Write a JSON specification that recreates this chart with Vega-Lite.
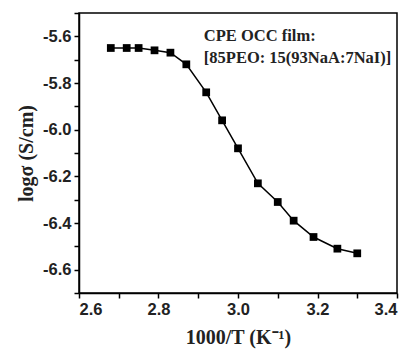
{
  "$schema": "https://vega.github.io/schema/vega-lite/v6.json",
  "width": 318,
  "height": 280,
  "autosize": {"type": "none"},
  "padding": {"left": 79, "top": 13, "right": 12, "bottom": 56},
  "background": "white",
  "config": {
    "view": {"stroke": "black", "strokeWidth": 1.5},
    "axis": {
      "domainColor": "black", "domainWidth": 1.5, "tickColor": "black", "tickWidth": 1.5,
      "tickSize": 5, "grid": false, "labelFont": "Liberation Sans", "labelFontWeight": "bold",
      "labelFontSize": 16.5, "labelColor": "#222", "titleFont": "Liberation Serif",
      "titleFontWeight": "bold", "titleFontSize": 20, "titleColor": "#222", "labelOverlap": false
    }
  },
  "datasets": {
    "pts": [
      {"x": 2.68, "y": -5.65}, {"x": 2.72, "y": -5.65}, {"x": 2.75, "y": -5.65},
      {"x": 2.79, "y": -5.66}, {"x": 2.83, "y": -5.67}, {"x": 2.87, "y": -5.72},
      {"x": 2.92, "y": -5.84}, {"x": 2.96, "y": -5.96}, {"x": 3.00, "y": -6.08},
      {"x": 3.05, "y": -6.23}, {"x": 3.10, "y": -6.31}, {"x": 3.14, "y": -6.39},
      {"x": 3.19, "y": -6.46}, {"x": 3.25, "y": -6.51}, {"x": 3.30, "y": -6.53}
    ],
    "notes": [
      {"x": 2.914, "y": -5.6, "label": "CPE OCC film:"},
      {"x": 2.914, "y": -5.694, "label": "[85PEO: 15(93NaA:7NaI)]"}
    ]
  },
  "layer": [
    {
      "data": {"name": "pts"},
      "mark": {"type": "line", "color": "black", "strokeWidth": 1.5},
      "encoding": {
        "x": {"field": "x", "type": "quantitative", "scale": {"domain": [2.6, 3.4], "nice": false, "zero": false},
          "axis": {"title": "1000/T (K⁻¹)", "values": [2.6, 2.7, 2.8, 2.9, 3.0, 3.1, 3.2, 3.3, 3.4], "tickCount": 50, "labelOverlap": false,
            "labelExpr": "abs(round(datum.value*10)) % 2 == 0 ? format(datum.value, '.1f') : ''", "titlePadding": 10, "labelPadding": 3}},
        "y": {"field": "y", "type": "quantitative", "scale": {"domain": [-6.7, -5.5], "nice": false, "zero": false},
          "axis": {"title": "logσ (S/cm)", "values": [-6.7, -6.6, -6.5, -6.4, -6.3, -6.2, -6.1, -6.0, -5.9, -5.8, -5.7, -5.6, -5.5], "tickCount": 50, "labelOverlap": false,
            "labelExpr": "abs(round(datum.value*10)) % 2 == 0 ? replace(format(datum.value, '.1f'), '−', '-') : ''", "titlePadding": 6, "labelPadding": 3}}
      }
    },
    {
      "data": {"name": "pts"},
      "mark": {"type": "square", "color": "black", "filled": true, "opacity": 1, "size": 60},
      "encoding": {
        "x": {"field": "x", "type": "quantitative"},
        "y": {"field": "y", "type": "quantitative"}
      }
    },
    {
      "data": {"name": "notes"},
      "mark": {"type": "text", "align": "left", "baseline": "middle", "font": "Liberation Serif", "fontWeight": "bold", "fontSize": 16.5, "color": "#222"},
      "encoding": {
        "x": {"field": "x", "type": "quantitative"},
        "y": {"field": "y", "type": "quantitative"},
        "text": {"field": "label"}
      }
    }
  ]
}
